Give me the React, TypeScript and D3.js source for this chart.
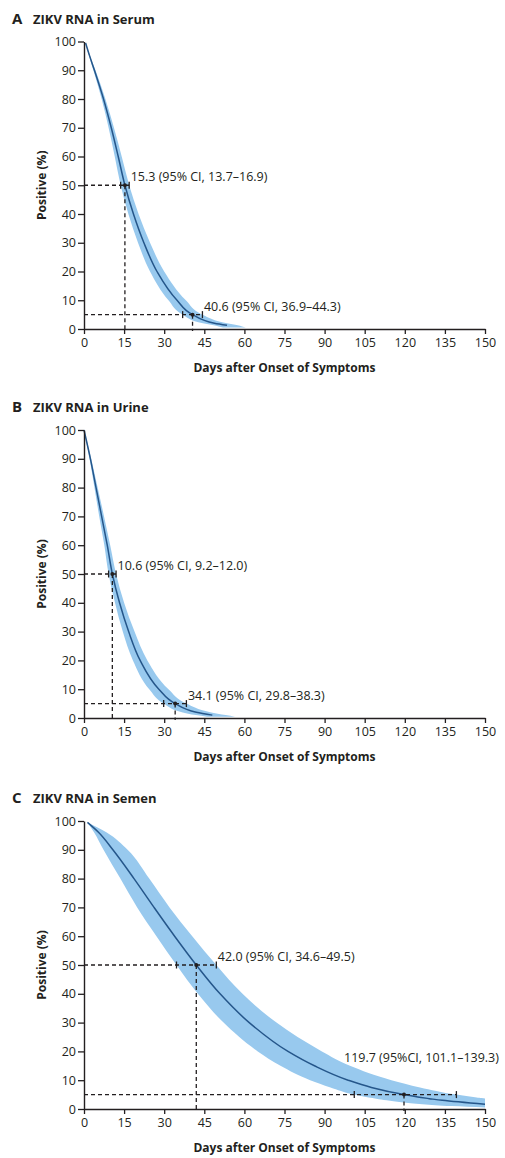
import React, { useRef, useEffect } from 'react';
import * as d3 from 'd3';

const xTicks = [0, 15, 30, 45, 60, 75, 90, 105, 120, 135, 150];
const yTicks = [0, 10, 20, 30, 40, 50, 60, 70, 80, 90, 100];

// percent positive, and the day at which each curve crosses it
const serumLevels = [99.5, 95, 90, 80, 70, 60, 50, 40, 30, 20, 10, 5, 2, 1.3, 0.5];
const serumMedian = [0.6, 2.1, 3.9, 7.3, 10.2, 12.8, 15.3, 18.5, 22.4, 27.3, 34.8, 40.6, 48.8, 53.5, null];
const serumLower = [0.55, 1.9, 3.5, 6.6, 9.2, 11.5, 13.7, 16.6, 20.2, 24.7, 31.6, 36.9, 44.5, 48.5, 52];
const serumUpper = [0.65, 2.3, 4.3, 8.0, 11.2, 14.1, 16.9, 20.4, 24.7, 30.0, 38.1, 44.3, 53.5, 57.5, 60.5];
// [percent, estimate, lower CI, upper CI]
const serumMarks = [[50, 15.3, 13.7, 16.9], [5, 40.6, 36.9, 44.3]];
const serumLabels = ['15.3 (95% CI, 13.7–16.9)', '40.6 (95% CI, 36.9–44.3)'];

const urineLevels = [100, 90, 80, 70, 60, 50, 40, 30, 20, 10, 5, 2, 1, 0.4];
const urineMedian = [0, 2.4, 4.5, 6.6, 8.7, 10.6, 13.3, 16.7, 21.0, 28.0, 34.1, 42, 48, null];
const urineLower = [0, 2.1, 3.9, 5.7, 7.6, 9.2, 11.6, 14.5, 18.3, 24.4, 29.8, 36.6, 41.8, 46];
const urineUpper = [0, 2.7, 5.1, 7.5, 9.8, 12.0, 15.0, 18.9, 23.7, 31.6, 38.3, 47.2, 53, 56.5];
const urineMarks = [[50, 10.6, 9.2, 12.0], [5, 34.1, 29.8, 38.3]];
const urineLabels = ['10.6 (95% CI, 9.2–12.0)', '34.1 (95% CI, 29.8–38.3)'];

const semenLevels = [99.5, 96, 90, 80, 70, 60, 50, 40, 30, 20, 15, 10, 7.5, 5, 4, 3.6, 3, 1.65, 1, 0.55];
const semenMedian = [1.3, 5.5, 10.8, 18.7, 26.2, 33.9, 42.0, 50.9, 61.8, 76.3, 86.2, 98.8, 107.5, 119.7, 126.1, 129.2, 134.0, 150, null, null];
const semenLower = [1.3, 3.8, 7.3, 13.6, 19.9, 27.1, 34.6, 42.6, 52.2, 65.0, 73.5, 84.6, 92.2, 101.1, 106.5, 109.3, 113.2, 126.6, 137.6, 150];
const semenUpper = [1.3, 8.5, 16.3, 24.4, 32, 40.5, 49.5, 59.3, 72.0, 89.0, 99.5, 115, 125.7, 139.3, 146.9, 150, 150, 150, 150, 150];
const semenMarks = [[50, 42.0, 34.6, 49.5], [5, 119.7, 101.1, 139.3]];
const semenLabels = ['42.0 (95% CI, 34.6–49.5)', '119.7 (95%CI, 101.1–139.3)'];

const panels = [
  { letter: 'A', title: 'ZIKV RNA in Serum', levels: serumLevels, median: serumMedian, lower: serumLower, upper: serumUpper, marks: serumMarks, labels: serumLabels, top: 41.5, bottom: 329, titleY: 24, labelOffsets: [null, null] },
  { letter: 'B', title: 'ZIKV RNA in Urine', levels: urineLevels, median: urineMedian, lower: urineLower, upper: urineUpper, marks: urineMarks, labels: urineLabels, top: 430, bottom: 718, titleY: 412, labelOffsets: [null, null] },
  { letter: 'C', title: 'ZIKV RNA in Semen', levels: semenLevels, median: semenMedian, lower: semenLower, upper: semenUpper, marks: semenMarks, labels: semenLabels, top: 821, bottom: 1109, titleY: 803, labelOffsets: [null, [-60, -33]] },
];

const FONT = "'Open Sans', 'DejaVu Sans', sans-serif";
const INK = '#231f20';

const App = () => {
  const svgRef = useRef(null);

  useEffect(() => {
    const svg = d3.select(svgRef.current);
    svg.selectAll('*').remove();

    const x = d3.scaleLinear().domain([0, 150]).range([84, 485]);

    panels.forEach(p => {
      const y = d3.scaleLinear().domain([0, 100]).range([p.bottom, p.top]);
      const g = svg.append('g');

      // title
      g.append('text')
        .attr('x', 12).attr('y', p.titleY)
        .attr('font-size', 15).attr('font-weight', 700)
        .attr('font-family', FONT).attr('fill', INK)
        .text(p.letter);
      g.append('text')
        .attr('x', 33).attr('y', p.titleY)
        .attr('font-size', 13).attr('font-weight', 700)
        .attr('font-family', FONT).attr('fill', INK)
        .text(p.title);

      // band
      const idx = d3.range(p.levels.length);
      const band = d3.area()
        .y(i => y(p.levels[i]))
        .x0(i => x(p.lower[i]))
        .x1(i => x(p.upper[i]))
        .curve(d3.curveMonotoneY);
      g.append('path')
        .datum(idx)
        .attr('fill', '#98c9ee')
        .attr('d', band);

      const medLine = d3.line()
        .defined(i => p.median[i] != null)
        .y(i => y(p.levels[i]))
        .x(i => x(p.median[i]))
        .curve(d3.curveMonotoneY);
      g.append('path')
        .datum(idx)
        .attr('fill', 'none')
        .attr('stroke', '#25568a')
        .attr('stroke-width', 1.5)
        .attr('d', medLine);

      // reference lines
      p.marks.forEach((m, k) => {
        const [pct, est, lo, hi] = m;
        const yy = y(pct);
        g.append('line')
          .attr('x1', x(0)).attr('x2', x(hi))
          .attr('y1', yy).attr('y2', yy)
          .attr('stroke', INK).attr('stroke-width', 1.3)
          .attr('stroke-dasharray', '4,3');
        g.append('line')
          .attr('x1', x(est)).attr('x2', x(est))
          .attr('y1', yy).attr('y2', y(0) + 2)
          .attr('stroke', INK).attr('stroke-width', 1.3)
          .attr('stroke-dasharray', '4,3');
        [lo, hi].forEach(v => {
          g.append('line')
            .attr('x1', x(v)).attr('x2', x(v))
            .attr('y1', yy - 3.5).attr('y2', yy + 3.5)
            .attr('stroke', INK).attr('stroke-width', 1.3);
        });
        g.append('circle')
          .attr('cx', x(est)).attr('cy', yy).attr('r', 2)
          .attr('fill', INK);

        const off = p.labelOffsets[k];
        const lx = off ? x(est) + off[0] : x(hi) + 1.5;
        const ly = off ? yy + off[1] : yy - 4;
        g.append('text')
          .attr('x', lx).attr('y', ly)
          .attr('font-size', 12.5).attr('font-family', FONT).attr('fill', INK)
          .text(p.labels[k]);
      });

      // axes
      const yAxis = g.append('g')
        .attr('transform', `translate(${x(0)},0)`)
        .call(d3.axisLeft(y).tickValues(yTicks).tickSize(6).tickPadding(2).tickSizeOuter(0));
      const xAxis = g.append('g')
        .attr('transform', `translate(0,${y(0)})`)
        .call(d3.axisBottom(x).tickValues(xTicks).tickSize(5).tickPadding(4).tickSizeOuter(0));
      [yAxis, xAxis].forEach(a => {
        a.select('.domain').attr('stroke', INK).attr('stroke-width', 1.4);
        a.selectAll('.tick line').attr('stroke', INK).attr('stroke-width', 1.3);
        a.selectAll('.tick text')
          .attr('font-size', 12.5).attr('font-family', FONT).attr('fill', INK);
      });

      g.append('text')
        .attr('transform', `translate(46,${y(50)}) rotate(-90)`)
        .attr('text-anchor', 'middle')
        .attr('font-size', 12).attr('font-weight', 700)
        .attr('font-family', FONT).attr('fill', INK)
        .text('Positive (%)');

      g.append('text')
        .attr('x', (x(0) + x(150)) / 2).attr('y', y(0) + 43)
        .attr('text-anchor', 'middle')
        .attr('font-size', 12).attr('font-weight', 700)
        .attr('font-family', FONT).attr('fill', INK)
        .text('Days after Onset of Symptoms');
    });
  }, []);

  return (
    <div style={{ position: 'absolute', left: 0, top: 0 }}>
      <svg ref={svgRef} width={505} height={1158} style={{ display: 'block', background: '#fff' }}></svg>
    </div>
  );
};

export default App;
